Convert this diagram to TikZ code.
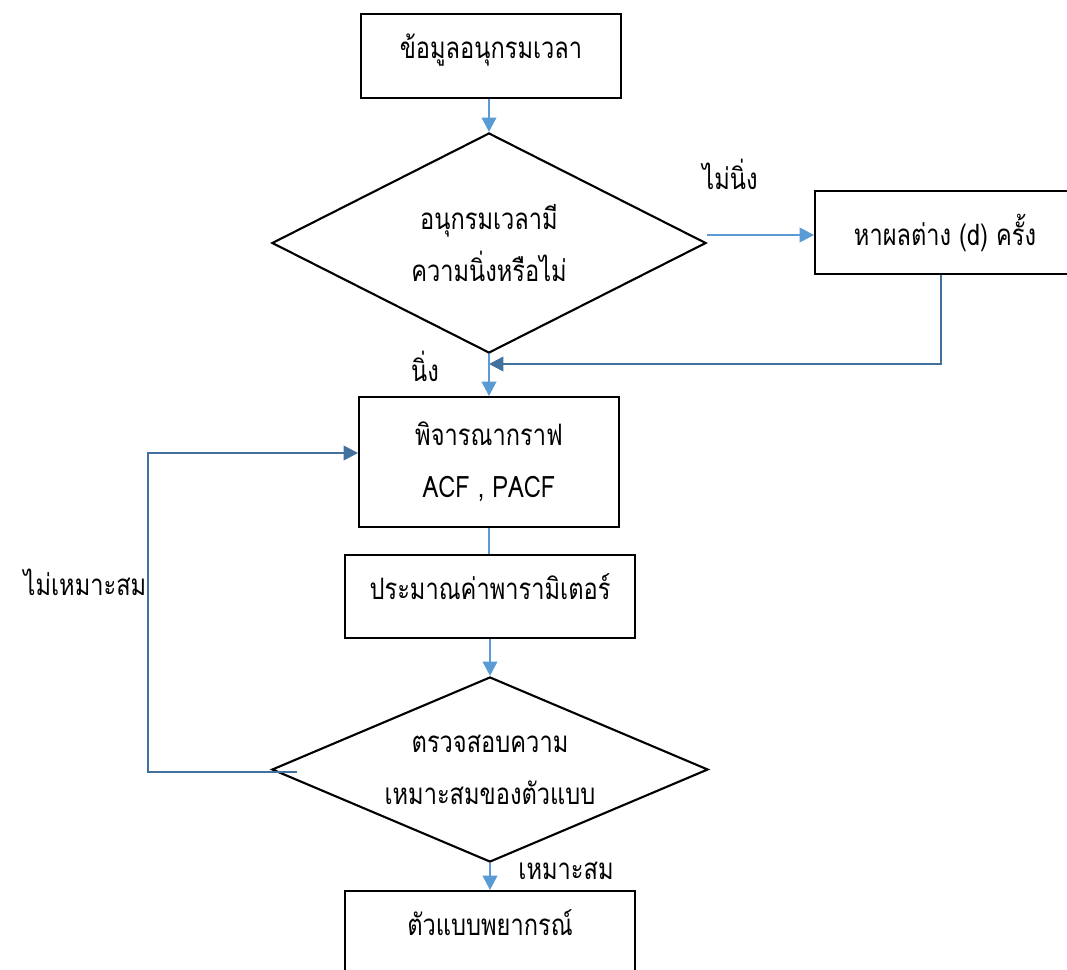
\documentclass[tikz,border=0pt]{standalone}
\usepackage{fontspec}
\usepackage{xcolor}
\usepackage{tikz}
\usetikzlibrary{positioning,shapes.geometric,arrows.meta}
\newfontfamily\thaifont[Script=Thai,FakeStretch=0.8]{Loma}
\definecolor{flowblue}{HTML}{5B9BD5}
\definecolor{loopblue}{HTML}{41719C}

\begin{document}
\begin{tikzpicture}[
  x=0.025cm, y=-0.025cm,
  font=\thaifont\fontsize{21}{37}\selectfont,
  box/.style={draw,line width=1.3pt,align=center,minimum width=6.5cm,minimum height=2.1cm,inner sep=2pt},
  upbox/.style={box,text depth=0.5cm},
  decide/.style={draw,line width=1.5pt,diamond,aspect=2,inner sep=0pt,align=center},
  arr/.style={-{Triangle[length=3.6mm,width=3.6mm]},line width=1.8pt,flowblue},
  link/.style={line width=1.8pt,flowblue},
  back/.style={-{Triangle[length=3.6mm,width=3.6mm]},line width=1.8pt,loopblue},
  tag/.style={inner sep=0pt},
]
\useasboundingbox (0,0) rectangle (1067,969);
\node[upbox] (data) at (491,56) {ข้อมูลอนุกรมเวลา};
\node[decide,minimum width=10.85cm,minimum height=5.5cm] (stat) at (489,243) {อนุกรมเวลามี\\ความนิ่งหรือไม่};
\node[box,minimum height=2.075cm] (diff) at (945,232.5) {หาผลต่าง (d) ครั้ง};
\node[box,minimum height=3.25cm] (acf) at (489,462) {พิจารณากราฟ\\ACF , PACF};
\node[upbox,minimum width=7.25cm,minimum height=2.075cm] (est) at (490,596.5) {ประมาณค่าพารามิเตอร์};
\node[decide,minimum width=10.9cm,minimum height=4.625cm] (check) at (490,769.5) {ตรวจสอบความ\\เหมาะสมของตัวแบบ};
\node[upbox,minimum width=7.25cm,minimum height=2.075cm] (model) at (490,932.5) {ตัวแบบพยากรณ์};
% labels on the branches
\node[tag] (nostat) at (730,174) {ไม่นิ่ง};
\node[tag] (isstat) at (425,366) {นิ่ง};
\node[tag] (nofit) at (85,582) {ไม่เหมาะสม};
\node[tag] (isfit) at (566,871) {เหมาะสม};
\coordinate (join) at (489,364);
\coordinate (bend) at (148,453);
\draw[arr] (data.south -| stat.north) -- (stat.north);
\draw[arr] (stat.east |- 0,235) -- (diff.west |- 0,235);
\draw[back] ([xshift=-0.1cm]diff.south) |- (join);
\draw[arr] (stat.south) -- (acf.north);
\draw[link] (acf.south) -- (acf.south |- est.north);
\draw[arr] (est.south -| check.north) -- (check.north);
\draw[back] ([xshift=0.65cm,yshift=-0.06cm]check.west) -| (bend) -- (acf.west |- bend);
\draw[arr] (check.south) -- (check.south |- model.north);
\end{tikzpicture}
\end{document}
